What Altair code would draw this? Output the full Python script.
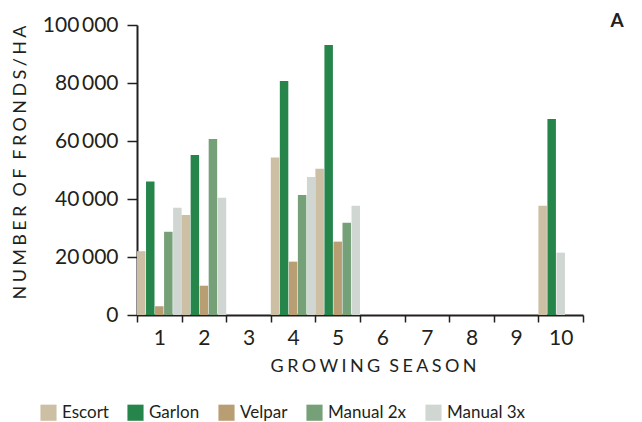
import altair as alt
import pandas as pd

seasons = ["1", "2", "3", "4", "5", "6", "7", "8", "9", "10"]
series = ["Escort", "Garlon", "Velpar", "Manual 2x", "Manual 3x"]
colors = ["#cdbfa4", "#26854b", "#b99e74", "#75a078", "#d0d7d2"]

escort = [22000, 34500, None, 54300, 50400, None, None, None, None, 37700]
garlon = [46000, 55200, None, 80700, 93100, None, None, None, None, 67600]
velpar = [3000, 10100, None, 18400, 25300, None, None, None, None, None]
manual2x = [28700, 60700, None, 41400, 31800, None, None, None, None, None]
manual3x = [37000, 40400, None, 47600, 37700, None, None, None, None, 21500]

y_ticks = [0, 20000, 40000, 60000, 80000, 100000]

values = [escort, garlon, velpar, manual2x, manual3x]
rows = []
for i, s in enumerate(seasons):
    slot = 0
    for name, vals in zip(series, values):
        v = vals[i]
        if v is None:
            continue
        rows.append({"season": s, "treatment": name, "fronds": v, "slot": slot})
        slot += 1
df = pd.DataFrame(rows)

FONT = "Lato"
INK = "#231f20"

def spaced(text):
    sp = "\u2009\u200a"
    return sp.join(list(text)).replace(sp + " " + sp, "\u2002")

bars = alt.Chart(df).mark_bar().encode(
    x=alt.X(
        "season:N",
        sort=seasons,
        scale=alt.Scale(domain=seasons, paddingInner=0, paddingOuter=0),
        axis=alt.Axis(
            title=spaced("GROWING SEASON"),
            labelAngle=0,
            tickBand="extent",
            tickSize=7,
            tickColor=INK,
            tickWidth=1.5,
            domainColor=INK,
            domainWidth=2,
            labelFont=FONT,
            labelFontSize=21,
            labelColor=INK,
            labelPadding=5,
            titleFont=FONT,
            titleFontSize=18,
            titleFontWeight="normal",
            titleColor=INK,
            titlePadding=9,
            titleX=236,
        ),
    ),
    xOffset=alt.XOffset("slot:O", scale=alt.Scale(domain=[0, 1, 2, 3, 4], paddingInner=0.06, paddingOuter=0)),
    y=alt.Y(
        "fronds:Q",
        scale=alt.Scale(domain=[0, 100000]),
        axis=alt.Axis(
            title=spaced("NUMBER OF FRONDS/HA"),
            values=y_ticks,
            grid=False,
            labelExpr="replace(format(datum.value, ','), ',', '\u2009')",
            tickSize=10,
            tickColor=INK,
            tickWidth=1.5,
            domainColor=INK,
            domainWidth=2,
            labelFont=FONT,
            labelFontSize=21,
            labelColor=INK,
            labelPadding=9,
            titleFont=FONT,
            titleFontSize=18,
            titleFontWeight="normal",
            titleColor=INK,
            titleAngle=270,
            titleX=-117,
            titleY=137,
            titleAlign="center",
            titleBaseline="middle",
        ),
    ),
    color=alt.Color(
        "treatment:N",
        scale=alt.Scale(domain=series, range=colors),
        legend=alt.Legend(
            title=None,
            orient="none",
            legendX=-97,
            legendY=379,
            direction="horizontal",
            symbolType="square",
            symbolSize=260,
            symbolStrokeWidth=0,
            symbolOpacity=1,
            labelFont=FONT,
            labelFontSize=17,
            labelColor=INK,
            labelOffset=5,
            columnPadding=18,
        ),
    ),
)

letter = alt.Chart(pd.DataFrame({"t": ["A"]})).mark_text(
    font=FONT, fontSize=19, fontWeight="bold", color=INK, align="center", baseline="middle"
).encode(x=alt.value(480), y=alt.value(-4), text="t:N")

chart = alt.layer(bars, letter).properties(
    width=446,
    height=290,
    autosize=alt.AutoSizeParams(type="none"),
    padding={"left": 129, "top": 17, "right": 51, "bottom": 107},
).configure_view(stroke=None)

chart.save("out.html", embed_options={"renderer": "svg", "actions": False})
